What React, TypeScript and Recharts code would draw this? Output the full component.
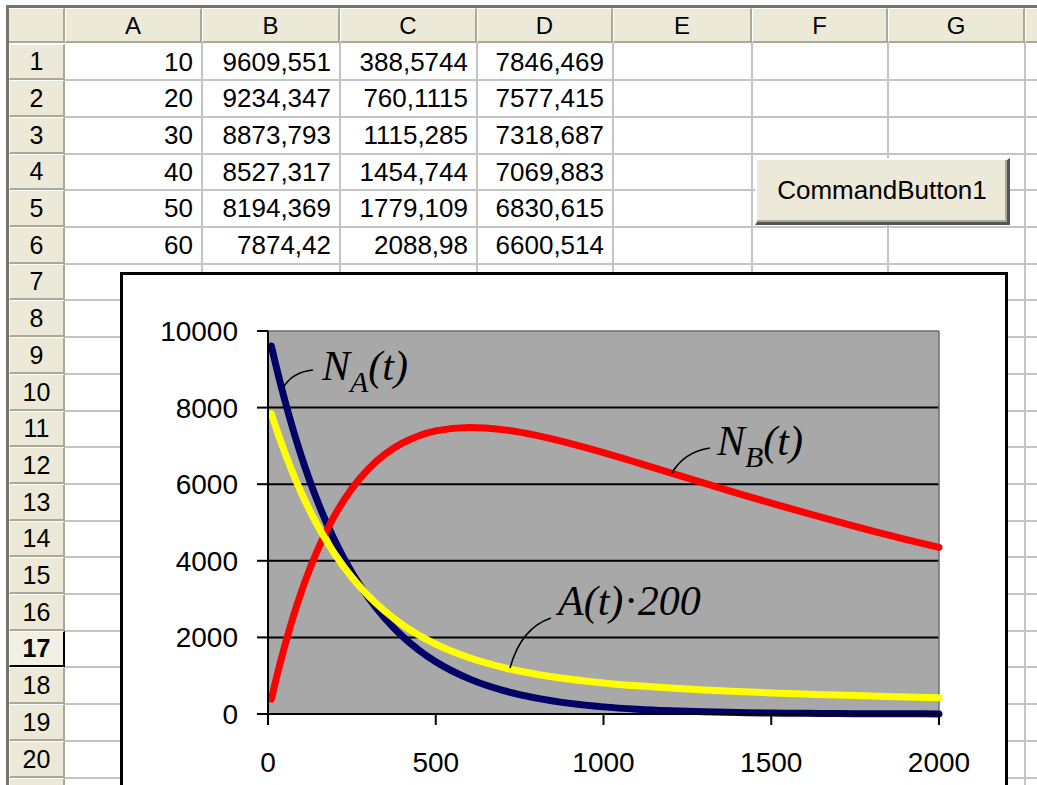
import React from 'react';
import { LineChart, Line, XAxis, YAxis, CartesianGrid, ReferenceLine } from 'recharts';

// ---- spreadsheet cell contents ----
const columnLetters = ['A', 'B', 'C', 'D', 'E', 'F', 'G', ''];
const cellA = ['10', '20', '30', '40', '50', '60'];
const cellB = ['9609,551', '9234,347', '8873,793', '8527,317', '8194,369', '7874,42'];
const cellC = ['388,5744', '760,1115', '1115,285', '1454,744', '1779,109', '2088,98'];
const cellD = ['7846,469', '7577,415', '7318,687', '7069,883', '6830,615', '6600,514'];
const buttonCaption = 'CommandButton1';

// ---- chart data (t, N_A, N_B, A*200) ----
const tValues = [10, 20, 30, 40, 50, 60, 80, 100, 125, 150, 175, 200, 250, 300, 350, 400, 450, 500, 600, 700, 800, 900, 1000, 1100, 1200, 1300, 1400, 1500, 1600, 1700, 1800, 1900, 2000];
const naValues = [9609.551, 9234.347, 8873.793, 8527.317, 8194.369, 7874.42, 7271, 6714, 6078, 5502, 4981, 4509, 3694, 3027, 2481, 2033, 1666, 1365, 917, 615, 413, 277, 186, 125, 84, 56, 38, 25, 17, 11, 8, 5, 3];
const nbValues = [388.5744, 760.1115, 1115.285, 1454.744, 1779.109, 2088.98, 2675, 3203, 3797, 4324, 4791, 5203, 5884, 6403, 6791, 7073, 7267, 7392, 7483, 7425, 7275, 7066, 6824, 6564, 6296, 6028, 5763, 5505, 5256, 5015, 4783, 4562, 4349];
const a200Values = [7846.469, 7577.415, 7318.687, 7069.883, 6830.615, 6600.514, 6167, 5765, 5305, 4888, 4510, 4166, 3570, 3078, 2671, 2335, 2055, 1822, 1467, 1217, 1038, 907, 810, 735, 676, 628, 587, 551, 521, 493, 468, 444, 422];
const xTicks = [0, 500, 1000, 1500, 2000];
const yTicks = [0, 2000, 4000, 6000, 8000, 10000];
const gridValues = [2000, 4000, 6000, 8000];

// ---- layout ----
const W = 1037;
const H = 785;
const colEdges = [65, 202, 340, 477, 613, 752, 888, 1025, 1162];
const rowTop = (r: number) => Math.round(43.5 + (r - 1) * 36.7);
const ROWS = 21;
const HEADER_BG = '#ECE9D8';
const HEADER_LINE = '#ACA899';
const GRID = '#C4C4C4';
const FONT = '"Liberation Sans", Arial, sans-serif';

const CHART_LEFT = 120;
const CHART_TOP = 272;
const CHART_W = 888;
const CHART_H = 540;

function Sheet() {
  const els: React.ReactNode[] = [];
  for (let r = 1; r <= ROWS; r++) {
    els.push(
      <div key={'h' + r} style={{ position: 'absolute', left: 65, top: rowTop(r + 1) - 1, width: W - 65, height: 2, background: GRID }} />
    );
  }
  for (let c = 1; c < colEdges.length; c++) {
    els.push(
      <div key={'v' + c} style={{ position: 'absolute', left: colEdges[c] - 1, top: 43, width: 2, height: H - 43, background: GRID }} />
    );
  }
  const cols = [cellA, cellB, cellC, cellD];
  cols.forEach((col, ci) => {
    col.forEach((txt, ri) => {
      const top = rowTop(ri + 1);
      const h = rowTop(ri + 2) - top;
      els.push(
        <div key={'t' + ci + '_' + ri} style={{ position: 'absolute', left: colEdges[ci], top, width: colEdges[ci + 1] - colEdges[ci] - 9, height: h, lineHeight: h + 'px', textAlign: 'right', fontSize: 26, color: '#000', whiteSpace: 'nowrap' }}>{txt}</div>
      );
    });
  });
  els.push(<div key="colband" style={{ position: 'absolute', left: 9, top: 8, width: W - 9, height: 35, background: HEADER_BG, borderBottom: '2px solid ' + HEADER_LINE, boxSizing: 'border-box' }} />);
  els.push(<div key="corner" style={{ position: 'absolute', left: 9, top: 8, width: 56, height: 35, borderTop: '1px solid #fff', borderRight: '2px solid ' + HEADER_LINE, borderBottom: '2px solid ' + HEADER_LINE, boxSizing: 'border-box' }} />);
  columnLetters.forEach((L, i) => {
    const left = colEdges[i];
    const w = Math.min(colEdges[i + 1], W) - colEdges[i];
    els.push(
      <div key={'c' + i} style={{ position: 'absolute', left, top: 8, width: w, height: 35, boxSizing: 'border-box', borderLeft: '1px solid #fff', borderTop: '1px solid #fff', borderRight: L ? '2px solid ' + HEADER_LINE : 'none', borderBottom: '2px solid ' + HEADER_LINE, textAlign: 'center', lineHeight: '33px', fontSize: 24, color: '#000' }}>{L}</div>
    );
  });
  for (let r = 1; r <= ROWS; r++) {
    const top = rowTop(r);
    const h = rowTop(r + 1) - top;
    const sel = r === 17;
    els.push(
      <div key={'r' + r} style={{ position: 'absolute', left: 9, top, width: 56, height: h, boxSizing: 'border-box', background: sel ? '#F2F0E4' : HEADER_BG, borderTop: '1px solid #fff', borderLeft: '1px solid #fff', borderRight: sel ? '2px solid #000' : '2px solid ' + HEADER_LINE, borderBottom: sel ? '2px solid #000' : '2px solid ' + HEADER_LINE, textAlign: 'center', lineHeight: (h - 3) + 'px', fontSize: 25, fontWeight: sel ? 700 : 400, color: '#000' }}>{r < ROWS ? r : ''}</div>
    );
  }
  els.push(<div key="ft" style={{ position: 'absolute', left: 6, top: 5, width: W - 6, height: 3, background: '#76746A' }} />);
  els.push(<div key="fl" style={{ position: 'absolute', left: 6, top: 5, width: 3, height: H - 5, background: '#76746A' }} />);
  els.push(
    <div key="btn" style={{ position: 'absolute', left: 755, top: 158, width: 255, height: 67, boxSizing: 'border-box', background: HEADER_BG, borderTop: '2px solid #fff', borderLeft: '2px solid #fff', borderRight: '3px solid #555', borderBottom: '3px solid #555', boxShadow: 'inset -2px -2px 0 #ACA899', textAlign: 'center', lineHeight: '60px', fontSize: 26, color: '#000' }}>{buttonCaption}</div>
  );
  return <>{els}</>;
}

export default function App() {
  const data = tValues.map((t, i) => ({ t, na: naValues[i], nb: nbValues[i], a200: a200Values[i] }));
  const tickStyle = { fill: '#000', fontSize: 28, fontFamily: FONT };
  const labelFont = '"Liberation Serif", "Times New Roman", serif';
  return (
    <div style={{ position: 'absolute', left: 0, top: 0, width: W, height: H, overflow: 'hidden', background: '#fff', fontFamily: FONT }}>
      <Sheet />
      <div style={{ position: 'absolute', left: CHART_LEFT, top: CHART_TOP, width: CHART_W, height: CHART_H, background: '#fff' }}>
        <LineChart width={CHART_W} height={CHART_H} data={data} margin={{ top: 59, right: 69, left: 0, bottom: 0 }}>
          <CartesianGrid horizontal={false} vertical={false} fill="#A8A8A8" fillOpacity={1} />
          {gridValues.map((v) => (
            <ReferenceLine key={v} y={v} stroke="#000" strokeWidth={2} />
          ))}
          <ReferenceLine y={10000} stroke="#6E6E6E" strokeWidth={1.5} />
          <ReferenceLine x={2000} stroke="#6E6E6E" strokeWidth={1.5} />
          <XAxis dataKey="t" type="number" domain={[0, 2000]} ticks={xTicks} height={98} tickSize={11} tickMargin={27} axisLine={{ stroke: '#000', strokeWidth: 2 }} tickLine={{ stroke: '#000', strokeWidth: 2 }} tick={tickStyle} interval={0} />
          <YAxis type="number" domain={[0, 10000]} ticks={yTicks} width={148} tickSize={11} tickMargin={19} axisLine={{ stroke: '#000', strokeWidth: 2 }} tickLine={{ stroke: '#000', strokeWidth: 2 }} tick={tickStyle} interval={0} />
          <Line dataKey="na" type="monotone" stroke="#000066" strokeWidth={7} strokeLinecap="round" dot={false} isAnimationActive={false} />
          <Line dataKey="nb" type="monotone" stroke="#FF0000" strokeWidth={7} strokeLinecap="round" dot={false} isAnimationActive={false} />
          <Line dataKey="a200" type="monotone" stroke="#FFFF00" strokeWidth={7} strokeLinecap="round" dot={false} isAnimationActive={false} />
        </LineChart>
        <div style={{ position: 'absolute', left: 0, top: 0, width: CHART_W, height: CHART_H, boxSizing: 'border-box', border: '3px solid #000', pointerEvents: 'none' }} />
      </div>
      <svg width={W} height={H} style={{ position: 'absolute', left: 0, top: 0, pointerEvents: 'none' }}>
        <g fill="none" stroke="#000" strokeWidth={1.6}>
          <path d="M313,370 Q292,372 283,388" />
          <path d="M710,448 Q684,452 672,473" />
          <path d="M551,618 Q521,628 510,668" />
        </g>
        <g fontFamily={labelFont} fontStyle="italic" fill="#000">
          <text x={322} y={380} fontSize={42}>N<tspan dy={12} fontSize={30}>A</tspan><tspan dy={-12}>(t)</tspan></text>
          <text x={717} y={455} fontSize={42}>N<tspan dy={12} fontSize={30}>B</tspan><tspan dy={-12}>(t)</tspan></text>
          <text x={558} y={615} fontSize={42}>A(t)<tspan dx={2}>·</tspan><tspan dx={2}>200</tspan></text>
        </g>
      </svg>
    </div>
  );
}
